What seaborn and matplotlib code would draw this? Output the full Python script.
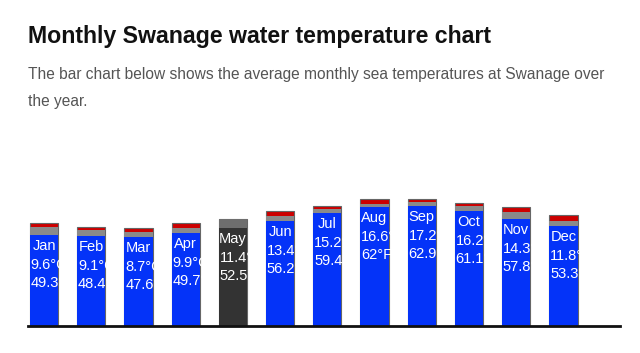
import matplotlib
matplotlib.use('Agg')
import matplotlib.pyplot as plt
import seaborn as sns

# Monthly values
months = ['Jan', 'Feb', 'Mar', 'Apr', 'May', 'Jun',
          'Jul', 'Aug', 'Sep', 'Oct', 'Nov', 'Dec']
temp_c = [9.6, 9.1, 8.7, 9.9, 11.4, 13.4, 15.2, 16.6, 17.2, 16.2, 14.3, 11.8]
temp_f = [49.3, 48.4, 47.6, 49.7, 52.5, 56.2, 59.4, 62, 62.9, 61.1, 57.8, 53.3]
# stacked segment heights (bottom blue, middle gray, top red)
blue_h = [91, 90, 89, 93, 98, 105, 113, 119, 120, 115, 107, 100]
gray_h = [8, 6, 5, 5, 9, 5, 4, 3, 4, 5, 7, 5]
red_h = [4, 3, 4, 5, 0, 5, 3, 5, 3, 3, 5, 6]
current_month = 'May'

sns.set_style('white')
plt.rcParams['font.family'] = ['Liberation Sans', 'DejaVu Sans']

fig = plt.figure(figsize=(6.4, 3.53), dpi=100)
ax = fig.add_axes([28 / 640, 27 / 353, 592 / 640, 136 / 353])

mid_h = [b + g for b, g in zip(blue_h, gray_h)]
total_h = [m + r for m, r in zip(mid_h, red_h)]

blue_pal = {m: ('#333333' if m == current_month else '#0433f8') for m in months}
gray_pal = {m: ('#6e6e6e' if m == current_month else '#8a8a8a') for m in months}
red_pal = {m: '#cc0000' for m in months}

bw = 0.6
common = dict(hue=months, legend=False, ax=ax, width=bw, saturation=1,
              order=months, hue_order=months)
sns.barplot(x=months, y=total_h, palette=red_pal, edgecolor='#666666',
            linewidth=0.8, **common)
sns.barplot(x=months, y=mid_h, palette=gray_pal, linewidth=0, **common)
sns.barplot(x=months, y=blue_h, palette=blue_pal, linewidth=0, **common)

blue_patches = ax.patches[-12:]
for i, patch in enumerate(blue_patches):
    top = blue_h[i]
    left = i - bw / 2 + 0.02
    lines = [
        ax.text(i, top - 11, months[i], ha='center', va='center'),
        ax.text(left, top - 30, f'{temp_c[i]:g}°C', ha='left', va='center'),
        ax.text(left, top - 48, f'{temp_f[i]:g}°F', ha='left', va='center'),
    ]
    for t in lines:
        t.set_color('white')
        t.set_fontsize(10.5)
        t.set_clip_path(patch)

ax.set_xlim(-0.34, 12.2)
ax.set_ylim(0, 136)
ax.set_xticks([])
ax.set_yticks([])
ax.set_xlabel('')
ax.set_ylabel('')
for side in ['top', 'right', 'left']:
    ax.spines[side].set_visible(False)
ax.spines['bottom'].set_linewidth(2)
ax.spines['bottom'].set_color('#111111')
ax.patch.set_alpha(0)

fig.text(28 / 640, 1 - 36 / 353, 'Monthly Swanage water temperature chart',
         fontsize=16.7, fontweight='bold', color='#111111', va='center')
fig.text(28 / 640, 1 - 75 / 353,
         'The bar chart below shows the average monthly sea temperatures at Swanage over',
         fontsize=11.2, color='#555555', va='center')
fig.text(28 / 640, 1 - 101 / 353, 'the year.',
         fontsize=11.2, color='#555555', va='center')

plt.savefig('out.png', dpi=100)
